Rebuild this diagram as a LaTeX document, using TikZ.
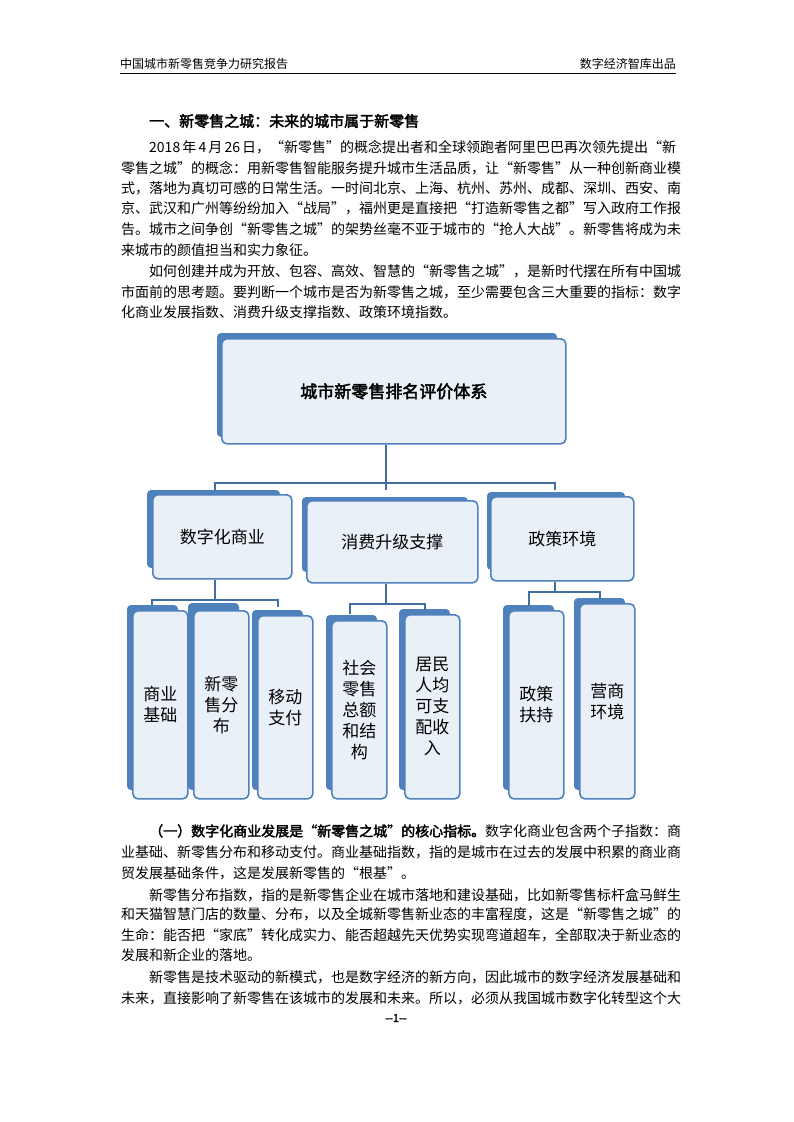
\documentclass[tikz,border=0pt]{standalone}
\usepackage{fontspec}
\setmainfont{Noto Sans CJK SC}[AutoFakeBold=2.5]
\XeTeXlinebreaklocale "zh"
\XeTeXlinebreakskip=0pt plus 3pt
\definecolor{dk}{HTML}{4F81BD}
\definecolor{lt}{HTML}{EAF0F8}
\newcommand{\fl}[1]{\makebox[555pt][s]{#1}}
\newcommand{\fli}[1]{\makebox[527pt][s]{#1}}
\begin{document}
\begin{tikzpicture}[x=1pt,y=-1pt,
  ln/.style={anchor=west,inner sep=0,font=\fontsize{14}{14}\selectfont},
  shd/.style={fill=dk,rounded corners=4pt},
  frt/.style={fill=lt,draw=dk,line width=1.6pt,rounded corners=5pt},
  lbl/.style={align=center,font=\fontsize{17}{21}\selectfont},
  cn/.style={draw=dk!85!black,line width=1.8pt}]
\useasboundingbox (0,0) rectangle (793,1122);
\fill[white] (0,0) rectangle (793,1122);
% header
\node[anchor=west,inner sep=0,font=\fontsize{12}{12}\selectfont] (h1) at (120,64) {中国城市新零售竞争力研究报告};
\node[anchor=east,inner sep=0,font=\fontsize{12}{12}\selectfont] (h2) at (676,64) {数字经济智库出品};
\draw[line width=0.8pt] (120,73) -- (676,73);
% heading
\node[ln,font=\fontsize{15}{15}\selectfont\bfseries] (hd) at (149,121) {一、新零售之城：未来的城市属于新零售};
\node[ln] (p1) at (149,147) {\fli{2018 年 4 月 26 日，“新零售”的概念提出者和全球领跑者阿里巴巴再次领先提出“新}};
\node[ln] (p2) at (121,168) {\fl{零售之城”的概念：用新零售智能服务提升城市生活品质，让“新零售”从一种创新商业模}};
\node[ln] (p3) at (121,188) {\fl{式，落地为真切可感的日常生活。一时间北京、上海、杭州、苏州、成都、深圳、西安、南}};
\node[ln] (p4) at (121,208) {\fl{京、武汉和广州等纷纷加入“战局”，福州更是直接把“打造新零售之都”写入政府工作报}};
\node[ln] (p5) at (121,229) {\fl{告。城市之间争创“新零售之城”的架势丝毫不亚于城市的“抢人大战”。新零售将成为未}};
\node[ln] (p6) at (121,250) {来城市的颜值担当和实力象征。};
\node[ln] (p7) at (149,271) {\fli{如何创建并成为开放、包容、高效、智慧的“新零售之城”，是新时代摆在所有中国城}};
\node[ln] (p8) at (121,292) {\fl{市面前的思考题。要判断一个城市是否为新零售之城，至少需要包含三大重要的指标：数字}};
\node[ln] (p9) at (121,312) {化商业发展指数、消费升级支撑指数、政策环境指数。};
% diagram top
\fill[shd] (217,333) rectangle (557,437);
\node[frt,minimum width=344pt,minimum height=105pt,anchor=north west] (top) at (221,338) {};
\node[font=\fontsize{17}{17}\selectfont\bfseries] (topt) at (top.center) {城市新零售排名评价体系};
% level2
\fill[shd] (147,490) rectangle (280,568);
\node[frt,minimum width=139pt,minimum height=84pt,anchor=north west] (a) at (152,494) {};
\node[lbl] at (a.center) {数字化商业};
\fill[shd] (302,497) rectangle (468,572);
\node[frt,minimum width=171pt,minimum height=82pt,anchor=north west] (b) at (306,500) {};
\node[lbl] at (b.center) {消费升级支撑};
\fill[shd] (487,492) rectangle (625,570);
\node[frt,minimum width=143pt,minimum height=84pt,anchor=north west] (c) at (490,496) {};
\node[lbl] at (c.center) {政策环境};
% connectors top
\coordinate (j0) at (386,483);
\draw[cn] (top.south -| j0) -- (386,490);
\draw[cn] (215,490) -- (215,483) -- (555,483) -- (555,490);
% leaves
\newcommand{\leaf}[7]{%
 \fill[shd] (#2,#3) rectangle (#2+51,790);
 \node[frt,minimum width=55pt,minimum height=798pt-#5,anchor=north west] (#1) at (#4,#5) {};
 \node[lbl] at (#1.center) {#6};}
\leaf{l1}{127}{605}{132}{610}{商业\\基础}{}
\leaf{l2}{188}{603}{193}{610}{新零\\售分\\布}{}
\leaf{l3}{252}{610}{257}{615}{移动\\支付}{}
\leaf{l4}{326}{615}{331}{620}{社会\\零售\\总额\\和结\\构}{}
\leaf{l5}{399}{609}{404}{614}{居民\\人均\\可支\\配收\\入}{}
\leaf{l6}{503}{605}{508}{610}{政策\\扶持}{}
\leaf{l7}{574}{598}{579}{603}{营商\\环境}{}
% connectors lower
\draw[cn] (a.south -| 215,0) -- (215,600);
\draw[cn] (152,605) -- (152,600) -- (278,600) -- (278,607);
\draw[cn] (b.south -| 386,0) -- (386,604);
\draw[cn] (350,614) -- (350,604) -- (425,604) -- (425,610);
\draw[cn] (c.south -| 555,0) -- (555,592);
\draw[cn] (529,606) -- (529,592) -- (600,592) -- (600,599);
% bottom text
\node[ln] (q1) at (149,831) {\fli{\textbf{（一）数字化商业发展是“新零售之城”的核心指标。}数字化商业包含两个子指数：商}};
\node[ln] (q2) at (121,852) {\fl{业基础、新零售分布和移动支付。商业基础指数，指的是城市在过去的发展中积累的商业商}};
\node[ln] (q3) at (121,873) {贸发展基础条件，这是发展新零售的“根基”。};
\node[ln] (q4) at (149,895) {\fli{新零售分布指数，指的是新零售企业在城市落地和建设基础，比如新零售标杆盒马鲜生}};
\node[ln] (q5) at (121,914) {\fl{和天猫智慧门店的数量、分布，以及全城新零售新业态的丰富程度，这是“新零售之城”的}};
\node[ln] (q6) at (121,935) {\fl{生命：能否把“家底”转化成实力、能否超越先天优势实现弯道超车，全部取决于新业态的}};
\node[ln] (q7) at (121,955) {发展和新企业的落地。};
\node[ln] (q8) at (149,977) {\fli{新零售是技术驱动的新模式，也是数字经济的新方向，因此城市的数字经济发展基础和}};
\node[ln] (q9) at (121,998) {\fl{未来，直接影响了新零售在该城市的发展和未来。所以，必须从我国城市数字化转型这个大}};
\node[font=\fontsize{11}{11}\selectfont\bfseries,inner sep=0] (pg) at (396,1018) {-{}-1-{}-};
\end{tikzpicture}
\end{document}
